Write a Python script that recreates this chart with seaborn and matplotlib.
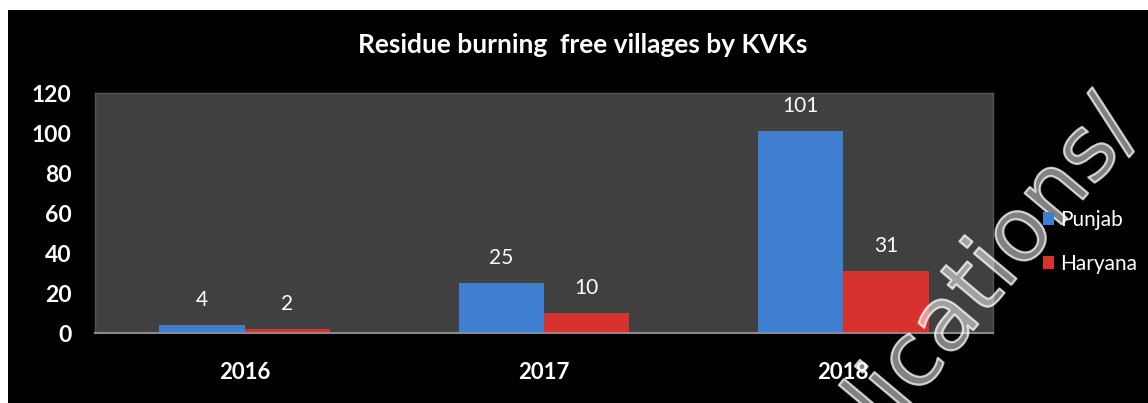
import matplotlib
matplotlib.use("Agg")
import matplotlib.pyplot as plt
import matplotlib.patheffects as pe
from matplotlib.patches import Rectangle, Patch
import seaborn as sns
import pandas as pd

# Data
years = ["2016", "2017", "2018"]
punjab = [4, 25, 101]
haryana = [2, 10, 31]
states = ["Punjab", "Haryana"]
y_ticks = [0, 20, 40, 60, 80, 100, 120]

df = pd.DataFrame({
    "Year": years * 2,
    "Villages": punjab + haryana,
    "State": [states[0]] * len(years) + [states[1]] * len(years),
})

sns.set_theme(style="dark")
plt.rcParams["font.family"] = ["Lato", "DejaVu Sans"]

fig = plt.figure(figsize=(11.48, 4.03), dpi=100, facecolor="white")
# black chart frame, with a thin white margin on the top and left
fig.patches.append(Rectangle((8 / 1148, 0), 1, 1 - 10 / 403, transform=fig.transFigure,
                             facecolor="black", edgecolor="none", zorder=-10))

ax = fig.add_axes([95 / 1148, 1 - 333 / 403, (993 - 95) / 1148, (333 - 93) / 403])
ax.set_facecolor("#404040")

palette = {"Punjab": "#3f7fd2", "Haryana": "#d8322f"}
sns.barplot(data=df, x="Year", y="Villages", hue="State", palette=palette,
            width=0.57, gap=0, saturation=1, ax=ax, legend=False,
            edgecolor="none", linewidth=0)

for container in ax.containers:
    ax.bar_label(container, padding=11, color="white", fontsize=15)

ax.set_ylim(0, 120)
ax.set_xlim(-0.5, 2.5)
ax.set_yticks(y_ticks)
ax.set_yticklabels([str(t) for t in y_ticks], color="white", fontsize=16.5, fontweight="bold")
ax.set_xticks(range(len(years)))
ax.set_xticklabels(years, color="white", fontsize=16, fontweight="bold")
ax.tick_params(axis="y", length=0, pad=17)
ax.tick_params(axis="x", length=0, pad=21)
ax.set_xlabel("")
ax.set_ylabel("")
ax.grid(False)
for side in ["top", "left", "right"]:
    ax.spines[side].set_visible(True)
    ax.spines[side].set_color("#555555")
    ax.spines[side].set_linewidth(1)
ax.spines["bottom"].set_color("#8a8a8a")
ax.spines["bottom"].set_linewidth(1.5)

fig.text(0.508, 1 - 45 / 403, "Residue burning  free villages by KVKs", color="white",
         fontsize=19, fontweight="bold", ha="center", va="center")

# legend to the right of the plot area
handles = [Patch(facecolor=palette[s], edgecolor="none") for s in states]
leg = fig.legend(handles, states, loc="center left",
                 bbox_to_anchor=(1024 / 1148, 1 - 242 / 403),
                 frameon=False, fontsize=15, labelcolor="white",
                 handlelength=0.55, handleheight=0.55, handletextpad=0.3,
                 labelspacing=1.15)
leg.set_zorder(10)

# watermark
fig.text(995 / 1148, 1 - 266 / 403, "lications/", color=(1, 1, 1, 0.3),
         fontsize=64, rotation=50, ha="center", va="center",
         family="DejaVu Sans", zorder=1,
         path_effects=[pe.withStroke(linewidth=1.6, foreground=(1, 1, 1, 0.75))])

fig.savefig("out.png", dpi=100, facecolor=fig.get_facecolor())
